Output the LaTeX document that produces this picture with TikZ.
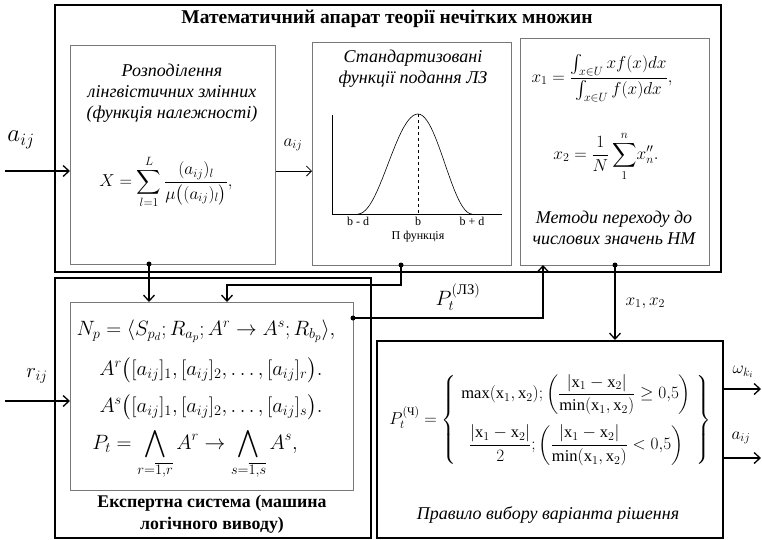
\documentclass[tikz,border=0pt]{standalone}
\usepackage{amsmath, amssymb}
\usepackage{fontspec}
\setmainfont{Liberation Serif}
\usetikzlibrary{arrows.meta, calc}
\definecolor{frameGray}{RGB}{120, 120, 120}

\begin{document}
\begin{tikzpicture}[x=1pt, y=-1pt,
    outerBox/.style={draw, line width=1.6pt, anchor=north west, inner sep=0pt},
    innerBox/.style={draw=frameGray, line width=0.9pt, anchor=north west, inner sep=0pt},
    boxHead/.style={font=\fontsize{18}{21}\selectfont\itshape, align=center},
    boldHead/.style={font=\fontsize{17.8}{22}\selectfont\bfseries, align=center},
    mathText/.style={font=\fontsize{17}{20}\selectfont},
    ruleMath/.style={font=\fontsize{21}{24}\selectfont},
    axisLabel/.style={font=\fontsize{12}{14}\selectfont, inner sep=1pt},
    link/.style={line width=1.3pt},
    linkArrow/.style={link, -{Straight Barb[length=6pt, width=11pt, line width=1.3pt]}},
    thinArrow/.style={line width=0.8pt, -{Straight Barb[length=5pt, width=10pt, line width=0.8pt]}},
    dotMark/.style={fill, circle, inner sep=0pt, minimum size=5pt}]
  \useasboundingbox (0,0) rectangle (762,539);

  % frames
  \node[outerBox, minimum width=666, minimum height=267] (mathBox) at (54,4) {};
  \node[innerBox, minimum width=205, minimum height=219] (distBox) at (70,45) {};
  \node[innerBox, minimum width=199, minimum height=223] (funcBox) at (312,42) {};
  \node[innerBox, minimum width=189, minimum height=227] (defBox) at (520,38) {};
  \node[outerBox, minimum width=316, minimum height=260] (expBox) at (54,277) {};
  \node[innerBox, minimum width=283, minimum height=188] (ruleBox) at (70,302) {};
  \node[outerBox, minimum width=346, minimum height=197] (choiceBox) at (376,340) {};

  \node[boldHead, font=\fontsize{19.5}{22}\selectfont\bfseries] (mathTitle) at (387,19)
    {Математичний апарат теорії нечітких множин};

  % membership function
  \node[boxHead] (distHead) at (172,93) {Розподілення\\лінгвістичних змінних\\(функція належності)};
  \node[mathText] (distFormula) at (166,182)
    {$X=\displaystyle\sum_{l=1}^{L}\frac{(a_{ij})_l}{\mu\bigl((a_{ij})_l\bigr)},$};

  % standard functions
  \node[boxHead] (funcHead) at (413,69) {Стандартизовані\\функції подання ЛЗ};
  \draw[line width=0.6pt] (332,115) -- (332,214) -- (502,214);
  \draw[line width=0.6pt, smooth, domain=-1:0, samples=25]
    plot ({418+60*\x}, {214-100*(1+cos(180*\x))/2});
  \draw[line width=0.6pt, smooth, domain=0:1, samples=25]
    plot ({418+54*\x}, {214-100*(1+cos(180*\x))/2});
  \draw[line width=0.6pt, dashed] (418,114) -- (418,214);
  \node[axisLabel, anchor=north] (bMinus) at (358,216) {b - d};
  \node[axisLabel, anchor=north] (bMid) at (418,216) {b};
  \node[axisLabel, anchor=north] (bPlus) at (472,216) {b + d};
  \node[axisLabel, anchor=north] (piName) at (418,230) {П функція};

  % defuzzification
  \node[mathText, font=\fontsize{18}{20}\selectfont] (defX1) at (602,78)
    {$x_1=\dfrac{\int_{x\in U}xf(x)dx}{\int_{x\in U}f(x)dx},$};
  \node[mathText] (defX2) at (606,156)
    {$x_2=\dfrac{1}{N}\displaystyle\sum_{1}^{n}\!x''_n.$};
  \node[boxHead] (defHead) at (614,228) {Методи переходу до\\числових значень НМ};

  % expert system
  \node[ruleMath] (ruleNp) at (206,331)
    {$N_p=\langle S_{p_d};R_{a_p};A^r\to A^s;R_{b_p}\rangle,$};
  \node[ruleMath] (ruleAr) at (211,370)
    {$A^r\bigl([a_{ij}]_1,[a_{ij}]_2,\dots,[a_{ij}]_r\bigr).$};
  \node[ruleMath] (ruleAs) at (211,407)
    {$A^s\bigl([a_{ij}]_1,[a_{ij}]_2,\dots,[a_{ij}]_s\bigr).$};
  \node[ruleMath, font=\fontsize{19.5}{22}\selectfont] (rulePt) at (195,454)
    {$P_t=\displaystyle\bigwedge_{r=\overline{1,r}}A^r\to\bigwedge_{s=\overline{1,s}}A^s,$};
  \node[boldHead] (expHead) at (212,514) {Експертна система (машина\\логічного виводу)};

  % decision rule
  \node[mathText, font=\fontsize{16.5}{20}\selectfont] (choiceFormula) at (550,420)
    {$P_t^{(\text{Ч})}=\left\{\begin{array}{c}
      \max(\mathrm{x}_1,\mathrm{x}_2);\left(\dfrac{|\mathrm{x}_1-\mathrm{x}_2|}{\min(\mathrm{x}_1,\mathrm{x}_2)}\geq 0{,}5\right)\\[20pt]
      \dfrac{|\mathrm{x}_1-\mathrm{x}_2|}{2};\left(\dfrac{|\mathrm{x}_1-\mathrm{x}_2|}{\min(\mathrm{x}_1,\mathrm{x}_2)}<0{,}5\right)
    \end{array}\right\}$};
  \node[boxHead] (choiceHead) at (548,515) {Правило вибору варіанта рішення};

  % inputs
  \coordinate (aIn) at (5,171);
  \coordinate (rIn) at (5,401);
  \draw[linkArrow] (aIn) -- (aIn -| distBox.west);
  \node[font=\fontsize{24}{24}\selectfont] (aLabel) at (21,140) {$a_{ij}$};
  \draw[linkArrow] (rIn) -- (rIn -| ruleBox.west);
  \node[font=\fontsize{20}{20}\selectfont] (rLabel) at (37,376) {$r_{ij}$};
  \draw[thinArrow] (distBox.east |- aIn) -- (funcBox.west |- aIn);
  \node[font=\fontsize{18}{18}\selectfont] (aMid) at (293,145) {$a_{ij}$};

  % links between blocks
  \coordinate (dotDist) at (149,264);
  \coordinate (dotFunc) at (401,265);
  \coordinate (bendFunc) at (227,285);
  \coordinate (dotRule) at (353,318);
  \coordinate (upDef) at (543,265);
  \coordinate (dotDef) at (615,265);
  \draw[linkArrow] (dotDist) -- (dotDist |- ruleBox.north);
  \draw[linkArrow] (dotFunc) |- (bendFunc) -- (bendFunc |- ruleBox.north);
  \draw[linkArrow] (dotRule) -| (upDef);
  \node[font=\fontsize{21}{21}\selectfont] (ptLabel) at (458,297) {$P_t^{(\text{ЛЗ})}$};
  \draw[linkArrow] (dotDef) -- (dotDef |- choiceBox.north);
  \node[font=\fontsize{18}{18}\selectfont, anchor=west] (xLabel) at (622,303) {$x_1,x_2$};
  \node[dotMark] (dDist) at (dotDist) {};
  \node[dotMark] (dFunc) at (dotFunc) {};
  \node[dotMark] (dRule) at (dotRule) {};
  \node[dotMark] (dDef) at (dotDef) {};

  % outputs
  \coordinate (wOut) at (722,389);
  \coordinate (aOut) at (722,458);
  \draw[linkArrow] (wOut) -- ++(39,0);
  \draw[linkArrow] (aOut) -- ++(39,0);
  \node[font=\fontsize{18}{18}\selectfont] (wLabel) at (743,372) {$\omega_{k_i}$};
  \node[font=\fontsize{18}{18}\selectfont] (aOutLabel) at (741,438) {$a_{ij}$};
\end{tikzpicture}
\end{document}
